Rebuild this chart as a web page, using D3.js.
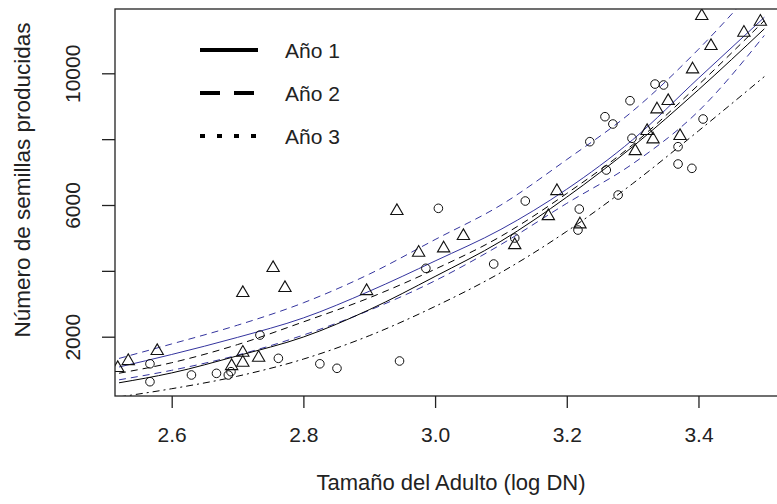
<!DOCTYPE html>
<html>
<head>
<meta charset="utf-8">
<script src="https://cdn.jsdelivr.net/npm/d3@7"></script>
<style>
  body { margin: 0; background: #fff; }
  svg { display: block; font-family: "Liberation Sans", Arial, sans-serif; }
</style>
</head>
<body>
<div id="chart"></div>
<script>
const width = 777;
const height = 504;

// Valori delle curve (x = log DN)
const curveX    = [2.52, 2.6, 2.7, 2.8, 2.9, 3.0, 3.1, 3.2, 3.3, 3.4, 3.5];
const blueUpper = [1340, 1780, 2350, 3030, 3900, 4950, 6000, 7380, 8850, 10730, 12900];
const blueMid   = [1080, 1460, 1980, 2570, 3380, 4300, 5260, 6480, 7980, 9850, 11700];
const blueLower = [690, 980, 1440, 2050, 2800, 3700, 4800, 6050, 7250, 8850, 11150];
const anio1     = [600, 900, 1420, 1990, 2820, 3830, 4900, 6240, 7770, 9500, 11350];
const anio2     = [890, 1210, 1760, 2450, 3180, 4050, 5050, 6350, 7830, 9650, 11600];
const anio3     = [170, 420, 800, 1320, 2030, 2920, 3950, 5200, 6650, 8250, 9900];

// Punti: triangoli
const triX = [2.518, 2.534, 2.578, 2.708, 2.754, 2.772, 2.708, 2.691, 2.708, 2.732,
              2.896, 2.942, 2.975, 3.013, 3.043, 3.121, 3.185, 3.172, 3.220, 3.304,
              3.322, 3.331, 3.337, 3.354, 3.372, 3.391, 3.419, 3.469, 3.494, 3.405];
const triY = [1080, 1292, 1596, 3358, 4117, 3510, 1545, 1140, 1241, 1393,
              3418, 5848, 4582, 4715, 5089, 4814, 6455, 5695, 5444, 7669,
              8278, 8026, 8937, 9189, 8126, 10152, 10860, 11264, 11598, 11771];

// Punti: cerchi
const circX = [2.567, 2.567, 2.630, 2.668, 2.686, 2.690, 2.734, 2.762, 2.825, 2.851,
               2.946, 3.005, 2.986, 3.089, 3.121, 3.137, 3.219, 3.217, 3.278, 3.334,
               3.347, 3.296, 3.258, 3.270, 3.235, 3.299, 3.369, 3.369, 3.390, 3.407, 3.260];
const circY = [1177, 633, 837, 887, 837, 937, 2050, 1343, 1177, 1040,
               1262, 5899, 4077, 4208, 4997, 6121, 5877, 5239, 6303, 9673,
               9645, 9168, 8682, 8460, 7923, 8026, 7771, 7245, 7114, 8612, 7063];

const xTicks = [2.6, 2.8, 3.0, 3.2, 3.4];
const xTickLabels = ["2.6", "2.8", "3.0", "3.2", "3.4"];
const yTicks = [2000, 4000, 6000, 8000, 10000];
const yTickLabels = ["2000", "", "6000", "", "10000"];

const legendLabels = ["Año 1", "Año 2", "Año 3"];

const margin = { left: 115, top: 9, right: 790, bottom: 396 };
const blue = "#34349e";

const x = d3.scaleLinear().domain([2.5139, 3.539]).range([margin.left, margin.right]);
const y = d3.scaleLinear().domain([199, 11953]).range([margin.bottom, margin.top]);

const svg = d3.select("#chart").append("svg")
    .attr("width", width)
    .attr("height", height);

svg.append("rect").attr("width", width).attr("height", height).attr("fill", "#fff");

svg.append("clipPath").attr("id", "clip")
  .append("rect")
    .attr("x", margin.left).attr("y", margin.top)
    .attr("width", margin.right - margin.left)
    .attr("height", margin.bottom - margin.top);

const plot = svg.append("g").attr("clip-path", "url(#clip)");

// Curve
const line = d3.line()
    .x(d => x(d[0]))
    .y(d => y(d[1]))
    .curve(d3.curveMonotoneX);

const curves = [
    { vals: blueUpper, color: blue, dash: "7,5" },
    { vals: blueMid, color: blue, dash: null },
    { vals: blueLower, color: blue, dash: "7,5" },
    { vals: anio1, color: "#000", dash: null },
    { vals: anio2, color: "#000", dash: "7,5" },
    { vals: anio3, color: "#000", dash: "7,4,2,4" }
];

plot.selectAll("path.curve")
    .data(curves)
    .join("path")
    .attr("class", "curve")
    .attr("d", c => line(curveX.map((v, i) => [v, c.vals[i]])))
    .attr("fill", "none")
    .attr("stroke", c => c.color)
    .attr("stroke-width", 1)
    .attr("stroke-dasharray", c => c.dash);

// Cerchi
plot.selectAll("circle.pt")
    .data(circX.map((v, i) => [v, circY[i]]))
    .join("circle")
    .attr("class", "pt")
    .attr("cx", d => x(d[0]))
    .attr("cy", d => y(d[1]))
    .attr("r", 4.3)
    .attr("fill", "none")
    .attr("stroke", "#111")
    .attr("stroke-width", 1);

// Triangoli
const tri = d3.symbol().type(d3.symbolTriangle).size(66);
plot.selectAll("path.tri")
    .data(triX.map((v, i) => [v, triY[i]]))
    .join("path")
    .attr("class", "tri")
    .attr("d", tri)
    .attr("transform", d => `translate(${x(d[0])},${y(d[1]) + 1})`)
    .attr("fill", "none")
    .attr("stroke", "#111")
    .attr("stroke-width", 1.1);

// Box
svg.append("rect")
    .attr("x", margin.left).attr("y", margin.top)
    .attr("width", margin.right - margin.left)
    .attr("height", margin.bottom - margin.top)
    .attr("fill", "none")
    .attr("stroke", "#222")
    .attr("stroke-width", 1.3);

// Assi
const xAxis = svg.append("g")
    .attr("transform", `translate(0,${margin.bottom})`)
    .call(d3.axisBottom(x).tickValues(xTicks)
        .tickFormat((d, i) => xTickLabels[i]).tickSize(12).tickPadding(19));

const yAxis = svg.append("g")
    .attr("transform", `translate(${margin.left},0)`)
    .call(d3.axisLeft(y).tickValues(yTicks)
        .tickFormat((d, i) => yTickLabels[i]).tickSize(13));

[xAxis, yAxis].forEach(a => {
    a.select(".domain").remove();
    a.selectAll(".tick line").attr("stroke", "#222").attr("stroke-width", 1.3);
    a.selectAll("text").attr("font-size", 21).attr("fill", "#222")
        .attr("font-family", "Liberation Sans, Arial, sans-serif");
});

yAxis.selectAll("text")
    .attr("x", null).attr("dy", null)
    .attr("text-anchor", "middle")
    .attr("transform", "translate(-35,0) rotate(-90)");

// Titoli degli assi
svg.append("text")
    .attr("x", 451).attr("y", 490)
    .attr("text-anchor", "middle")
    .attr("font-size", 22).attr("fill", "#222")
    .text("Tamaño del Adulto (log DN)");

svg.append("text")
    .attr("transform", "translate(30,180) rotate(-90)")
    .attr("text-anchor", "middle")
    .attr("font-size", 22.5).attr("fill", "#222")
    .text("Número de semillas producidas");

// Legenda
const legendDash = [null, "20,14", "5,12"];
const legend = svg.append("g");
legendLabels.forEach((lab, i) => {
    const ly = 50 + i * 43;
    legend.append("line")
        .attr("x1", 200).attr("x2", 258)
        .attr("y1", ly).attr("y2", ly)
        .attr("stroke", "#000")
        .attr("stroke-width", 4)
        .attr("stroke-dasharray", legendDash[i]);
    legend.append("text")
        .attr("x", 285).attr("y", ly + 7.5)
        .attr("font-size", 21).attr("fill", "#222")
        .text(lab);
});
</script>
</body>
</html>
